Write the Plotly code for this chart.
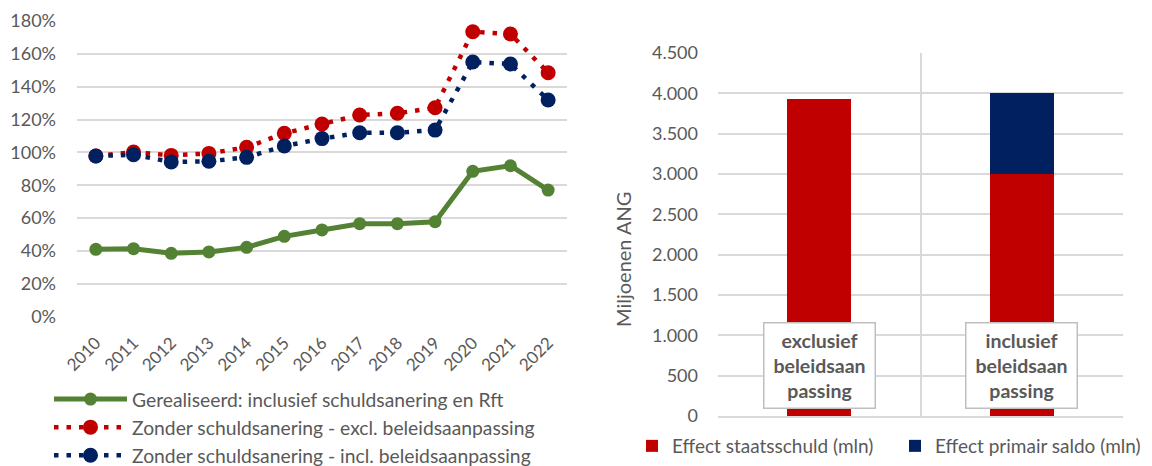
import plotly.graph_objects as go

# ---- data: schuldquote (% van bbp) ----
years = [str(y) for y in range(2010, 2023)]
gerealiseerd = [41.0, 41.4, 38.6, 39.4, 42.2, 48.9, 52.8, 56.6, 56.6, 57.8, 88.5, 91.9, 77.1]
excl_beleid = [97.8, 100.2, 98.2, 99.4, 103.1, 111.6, 117.3, 122.8, 123.8, 127.2, 173.5, 172.1, 148.5]
incl_beleid = [97.8, 98.6, 94.2, 94.6, 97.0, 103.9, 108.4, 112.0, 112.0, 113.6, 155.0, 153.8, 131.9]

# ---- data: effect in miljoenen ANG ----
scenarios = ["exclusief beleidsaanpassing", "inclusief beleidsaanpassing"]
scenario_labels = ["exclusief<br>beleidsaan<br>passing", "inclusief<br>beleidsaan<br>passing"]
effect_staatsschuld = [3935, 3000]
effect_primair = [0, 1000]

GREEN = "#548235"
RED = "#C00000"
NAVY = "#002060"
GRID = "#d9d9d9"
TXT = "#595959"
FONT = "Lato"

# page body has an 8px margin, so the figure is a bit smaller and offset
OFF = 8
W, H = 1152 - OFF, 466 - OFF

fig = go.Figure()

fig.add_trace(go.Scatter(
    x=years, y=gerealiseerd, name="Gerealiseerd: inclusief schuldsanering en Rft",
    mode="lines+markers", line=dict(color=GREEN, width=5),
    marker=dict(size=13, color=GREEN), xaxis="x", yaxis="y", legend="legend"))
fig.add_trace(go.Scatter(
    x=years, y=excl_beleid, name="Zonder schuldsanering - excl. beleidsaanpassing",
    mode="lines+markers", line=dict(color=RED, width=4.5, dash="4.5px,8px"),
    marker=dict(size=15, color=RED), xaxis="x", yaxis="y", legend="legend"))
fig.add_trace(go.Scatter(
    x=years, y=incl_beleid, name="Zonder schuldsanering - incl. beleidsaanpassing",
    mode="lines+markers", line=dict(color=NAVY, width=4.5, dash="4.5px,8px"),
    marker=dict(size=15, color=NAVY), xaxis="x", yaxis="y", legend="legend"))

fig.add_trace(go.Bar(
    x=scenarios, y=effect_staatsschuld, name="Effect staatsschuld (mln)",
    marker=dict(color=RED, line=dict(width=0)), width=0.315,
    xaxis="x2", yaxis="y2", legend="legend2"))
fig.add_trace(go.Bar(
    x=scenarios, y=effect_primair, name="Effect primair saldo (mln)",
    marker=dict(color=NAVY, line=dict(width=0)), width=0.315,
    xaxis="x2", yaxis="y2", legend="legend2"))

for cat, lab in zip(scenarios, scenario_labels):
    fig.add_annotation(
        x=cat, y=632, xref="x2", yref="y2", text="<b>" + lab + "</b>",
        showarrow=False, font=dict(family=FONT, size=19.5, color=TXT),
        bgcolor="white", bordercolor="#bfbfbf", borderwidth=1.5,
        width=108, height=82, align="center", yanchor="middle")

# helpers: page pixels -> paper fractions
def px_x(a, b):
    return [(a - OFF) / W, (b - OFF) / W]

def px_y(top, bottom):
    return [1 - (bottom - OFF) / H, 1 - (top - OFF) / H]

# y-axis title of the bar chart (sits below the axis centre, as in the source)
fig.add_annotation(
    x=(623 - OFF) / W, y=1 - (260 - OFF) / H, xref="paper", yref="paper",
    text="Miljoenen ANG", textangle=-90, showarrow=False,
    font=dict(family=FONT, size=20, color=TXT))

fig.update_layout(
    width=W, height=H, margin=dict(l=0, r=0, t=0, b=0, autoexpand=False),
    paper_bgcolor="white", plot_bgcolor="white",
    font=dict(family=FONT, size=19, color=TXT),
    separators=",.",
    barmode="stack", showlegend=True,
    xaxis=dict(domain=px_x(77, 567), type="category", range=[-0.5, 12.5],
               tickangle=-45, showgrid=False, showline=False, ticks="",
               ticklabelstandoff=12, tickfont=dict(size=17, color=TXT)),
    yaxis=dict(domain=px_y(21, 316.7), range=[0, 180], dtick=20, ticksuffix="%",
               showgrid=True, gridcolor=GRID, gridwidth=1.5, zeroline=False,
               ticks="", ticklabelstandoff=20,
               tickfont=dict(size=18, color=TXT), anchor="x"),
    xaxis2=dict(domain=px_x(718, 1123), type="category", range=[-0.5, 1.5],
                showticklabels=False, tickson="boundaries", showgrid=True,
                gridcolor=GRID, gridwidth=1.5, showline=True, linecolor=GRID,
                linewidth=1.5, ticks="", anchor="y2"),
    yaxis2=dict(domain=px_y(53, 416), range=[0, 4500], dtick=500, tickformat=",d",
                showgrid=True, gridcolor=GRID, gridwidth=1.5, zeroline=False,
                ticks="", ticklabelstandoff=19,
                tickfont=dict(size=18, color=TXT), anchor="x2"),
    legend=dict(x=(49 - OFF) / W, y=1 - (380 - OFF) / H,
                xanchor="left", yanchor="top",
                orientation="v", itemwidth=73,
                bgcolor="rgba(0,0,0,0)", font=dict(size=19.3, color=TXT)),
    legend2=dict(x=(632 - OFF) / W, y=1 - (446 - OFF) / H,
                 xanchor="left", yanchor="middle",
                 orientation="h", itemwidth=30, traceorder="normal",
                 entrywidth=218, entrywidthmode="pixels",
                 bgcolor="rgba(0,0,0,0)", font=dict(size=19, color=TXT)),
)

fig.write_html("out.html")
